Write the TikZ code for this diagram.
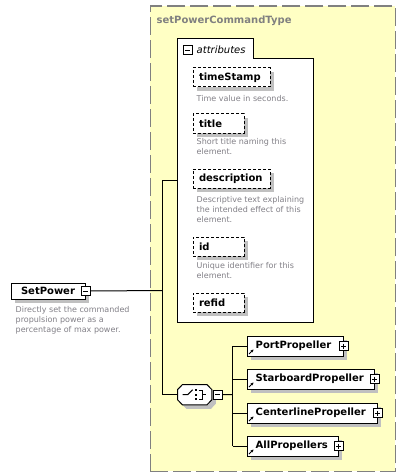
\documentclass[tikz,border=0pt]{standalone}
\usepackage{fontspec}
\setmainfont{DejaVu Sans}
\usetikzlibrary{shadows,arrows.meta,calc}
\definecolor{ylw}{RGB}{255,255,196}
\definecolor{desccol}{RGB}{130,128,135}
\definecolor{ttlcol}{RGB}{128,128,128}
\definecolor{shadowgray}{RGB}{192,192,192}
\definecolor{framecol}{RGB}{128,128,128}
\newcommand\elfont{\fontsize{10}{12}\selectfont\bfseries}
\newcommand\descfont{\fontsize{8}{10}\selectfont}
\tikzset{
  withshadow/.style={drop shadow={shadow xshift=4pt, shadow yshift=-4pt, fill=shadowgray, opacity=1}},
  elbox/.style={draw=black, fill=white, line width=1pt, inner sep=0pt, anchor=north west, withshadow},
  attbox/.style={draw=black, fill=white, line width=1pt, dash pattern=on 3pt off 2pt, inner xsep=6pt, inner ysep=0pt, anchor=north west, minimum height=19pt, align=left, font=\elfont, withshadow},
  desc/.style={anchor=north west, align=left, text=desccol, font=\descfont, inner sep=0pt},
  pmbox/.style={draw=black, fill=white, minimum size=9pt, inner sep=0pt, line width=0.8pt},
  minusbox/.style={pmbox, path picture={\draw[line width=0.8pt] ([xshift=2pt]path picture bounding box.west) -- ([xshift=-2pt]path picture bounding box.east);}},
  plusbox/.style={pmbox, path picture={\draw[line width=0.8pt] ([xshift=2pt]path picture bounding box.west) -- ([xshift=-2pt]path picture bounding box.east); \draw[line width=0.8pt] ([yshift=-2pt]path picture bounding box.north) -- ([yshift=2pt]path picture bounding box.south);}},
  conn/.style={draw=black, line width=1pt},
  reficon/.style={-{Stealth[length=2.8pt,width=2.8pt]}, line width=0.9pt},
}
\begin{document}
\begin{tikzpicture}[x=1pt,y=-1pt]
\useasboundingbox (0,0) rectangle (401,476);
\fill[white] (0,0) rectangle (401,476);
\begin{scope}[shift={(0.5,0.5)}]
% complex type frame
\node[draw=framecol, fill=ylw, line width=1.5pt, dash pattern=on 18pt off 5pt, anchor=north west, minimum width=245pt, minimum height=465pt, inner sep=0pt] (type) at (149,5) {};
\node[anchor=west, inner sep=0pt, text=ttlcol, font=\elfont] (typename) at (156,20) {setPowerCommandType};
% attributes group
\node[anchor=north west, minimum width=136pt, minimum height=284pt, inner sep=0pt] (attrs) at (177,38) {};
\draw[fill=white, line width=1pt] (177,38) -- (253,38) -- (253,58) -- (313,58) -- (313,322) -- (177,322) -- cycle;
\node[minusbox] (attrminus) at (187,49.5) {};
\node[anchor=west, inner sep=0pt, font=\fontsize{10}{12}\selectfont\itshape] (attrlbl) at (196,49) {attributes};
% attributes
\node[attbox, text width=65pt] (ts) at (192,67) {timeStamp};
\node[desc] (tsd) at (196,95) {Time value in seconds.};
\node[attbox, text width=39pt] (ti) at (192,113) {title};
\node[desc] (tid) at (196,138) {Short title naming this\\element.};
\node[attbox, text width=65pt] (de) at (192,168) {description};
\node[desc] (ded) at (196,196) {Descriptive text explaining\\the intended effect of this\\element.};
\node[attbox, text width=39pt] (id) at (192,236) {id};
\node[desc] (idd) at (196,262) {Unique identifier for this\\element.};
\node[attbox, text width=39pt] (rf) at (192,292) {refid};
% root element
\node[elbox, minimum width=74pt, minimum height=16pt] (sp) at (10,282) {\elfont SetPower};
\node[minusbox] (spm) at (sp.east) {};
\node[desc] (spd) at (15,306) {Directly set the commanded\\propulsion power as a\\percentage of max power.};
% sequence compositor
\node[anchor=north west, minimum width=34pt, minimum height=20pt, inner sep=0pt] (seq) at (177,384) {};
\fill[shadowgray] ($(seq.west)+(4,-1)$) -- ($(seq.north west)+(9,4)$) -- ($(seq.north east)+(-1,4)$) -- ($(seq.east)+(4,-1)$) -- ($(seq.east)+(4,9)$) -- ($(seq.south east)+(-1,4)$) -- ($(seq.south west)+(9,4)$) -- ($(seq.west)+(4,9)$) -- cycle;
\draw[fill=white, line width=1pt] ($(seq.west)+(0,-5)$) -- ($(seq.north west)+(5,0)$) -- ($(seq.north east)+(-5,0)$) -- ($(seq.east)+(0,-5)$) -- ($(seq.east)+(0,5)$) -- ($(seq.south east)+(-5,0)$) -- ($(seq.south west)+(5,0)$) -- ($(seq.west)+(0,5)$) -- cycle;
\draw[line width=1pt] ($(seq.center)+(-12,0)$) -- ($(seq.center)+(-7,0)$) -- ($(seq.center)+(-2,-5)$);
\fill ($(seq.center)+(0.5,-5.5)$) rectangle ($(seq.center)+(2.5,-3.5)$);
\fill ($(seq.center)+(0.5,-1)$) rectangle ($(seq.center)+(2.5,1)$);
\fill ($(seq.center)+(0.5,3.5)$) rectangle ($(seq.center)+(2.5,5.5)$);
\draw[line width=1pt] ($(seq.center)+(4,-4.5)$) -- ($(seq.center)+(8,-4.5)$) -- ($(seq.center)+(8,4.5)$) -- ($(seq.center)+(4,4.5)$);
\draw[line width=1pt] ($(seq.center)+(8,0)$) -- ($(seq.center)+(11,0)$);
\node[minusbox, anchor=west] (seqm) at ([xshift=1pt]seq.east) {};
% children
\node[elbox, minimum width=96pt, minimum height=20pt] (port) at (246,335) {};
\node[anchor=west, inner sep=0pt, font=\elfont] (portl) at ([xshift=9pt]port.west) {PortPropeller};
\node[plusbox] (portp) at (port.east) {};
\node[elbox, minimum width=127pt, minimum height=20pt] (star) at (246,368) {};
\node[anchor=west, inner sep=0pt, font=\elfont] (starl) at ([xshift=9pt]star.west) {StarboardPropeller};
\node[plusbox] (starp) at (star.east) {};
\node[elbox, minimum width=130pt, minimum height=20pt] (cent) at (246,402) {};
\node[anchor=west, inner sep=0pt, font=\elfont] (centl) at ([xshift=9pt]cent.west) {CenterlinePropeller};
\node[plusbox] (centp) at (cent.east) {};
\node[elbox, minimum width=91pt, minimum height=20pt] (allp) at (246,435) {};
\node[anchor=west, inner sep=0pt, font=\elfont] (allpl) at ([xshift=9pt]allp.west) {AllPropellers};
\node[plusbox] (allpp) at (allp.east) {};
\foreach \n in {port,star,cent,allp}{
  \draw[reficon] ([shift={(2.5pt,2.5pt)}]\n.south west) -- ([shift={(7pt,7pt)}]\n.south west);
}
% connectors
\coordinate (jx) at (162,290);
\coordinate (jy) at (232,394);
\draw[conn] (spm.east) -- (jx);
\draw[conn] (attrs.west) -- (attrs.west -| jx) -- (seq.west -| jx) -- (seq.west);
\draw[conn] (seqm.east) -- (jy);
\draw[conn] (port.west -| jy) -- (allp.west -| jy);
\draw[conn] (port.west -| jy) -- (port.west);
\draw[conn] (star.west -| jy) -- (star.west);
\draw[conn] (cent.west -| jy) -- (cent.west);
\draw[conn] (allp.west -| jy) -- (allp.west);
\end{scope}
\end{tikzpicture}
\end{document}
